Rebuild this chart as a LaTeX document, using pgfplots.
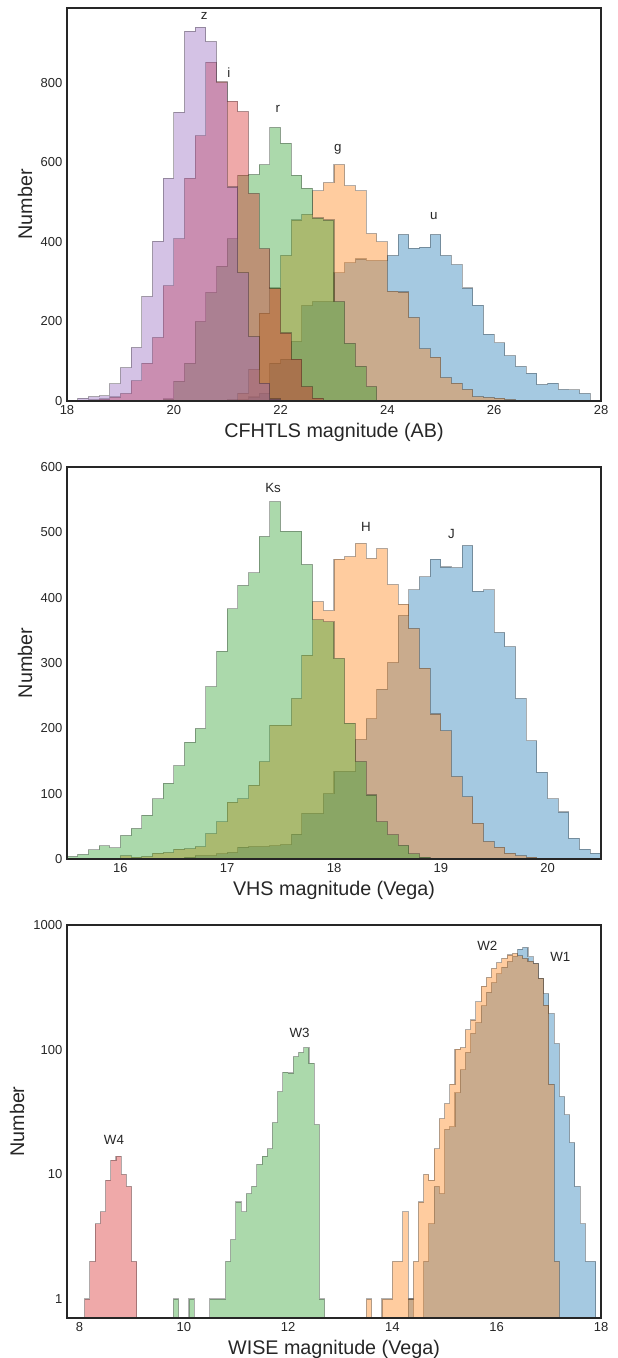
\documentclass[border=0pt]{standalone}
\usepackage{fontspec}
\setmainfont{Liberation Sans}
\usepackage{pgfplots}
\pgfplotsset{compat=1.18}
\definecolor{cC0}{HTML}{1F77B4}
\definecolor{cC1}{HTML}{FF7F0E}
\definecolor{cC2}{HTML}{2CA02C}
\definecolor{cC3}{HTML}{D62728}
\definecolor{cC4}{HTML}{9467BD}
\definecolor{txt}{HTML}{262626}
\tikzset{lab/.style={font=\fontsize{10}{12}\selectfont, text=txt}}
\pgfplotsset{
  hist/.style={const plot, mark=none, fill=#1, fill opacity=0.4, draw=black, draw opacity=0.3, line width=0.8pt},
  panel/.style={
    scale only axis, width=400.5pt, anchor=south west,
    axis line style={draw=txt, line width=1pt},
    major tick length=0pt, minor tick length=0pt,
    tick label style={font=\fontsize{9.75}{11}\selectfont, text=txt},
    /pgf/number format/assume math mode=true,
    /pgf/number format/1000 sep={},
    axis on top,
    ylabel={Number},
    every axis y label/.style={at={(axis description cs:-0.0787,0.5)}, rotate=90, anchor=center, font=\fontsize{14.8}{17}\selectfont, text=txt},
    every axis x label/.style={at={(axis description cs:0.5,0)}, anchor=center, yshift=-23.25pt, font=\fontsize{14.8}{17}\selectfont, text=txt},
  },
}
\begin{document}
\begin{tikzpicture}
\useasboundingbox (0,0) rectangle (462.75pt,-1018.5pt);
% ---------------- Panel 1 ----------------
\begin{axis}[panel, at={(50.25pt,-300.75pt)}, height=294.75pt,
  xmin=18, xmax=28, ymin=0, ymax=988,
  xtick={18,20,...,28}, ytick={0,200,...,800},
  xlabel={CFHTLS magnitude (AB)}]
\addplot[hist=cC0] coordinates {(21.2,3) (21.4,10) (21.6,20) (21.8,95) (22.0,105) (22.2,150) (22.4,240) (22.6,250) (22.8,250) (23.0,322) (23.2,347) (23.4,357) (23.6,353) (23.8,353) (24.0,366) (24.2,419) (24.4,384) (24.6,387) (24.8,419) (25.0,366) (25.2,343) (25.4,284) (25.6,241) (25.8,168) (26.0,146) (26.2,114) (26.4,87) (26.6,70) (26.8,42) (27.0,45) (27.2,29) (27.4,28) (27.6,19) (27.8,19)} \closedcycle;
\addplot[hist=cC1] coordinates {(21.0,3) (21.2,20) (21.4,80) (21.6,221) (21.8,284) (22.0,366) (22.2,455) (22.4,469) (22.6,528) (22.8,549) (23.0,594) (23.2,541) (23.4,528) (23.6,421) (23.8,400) (24.0,276) (24.2,274) (24.4,210) (24.6,131) (24.8,110) (25.0,59) (25.2,45) (25.4,29) (25.6,11) (25.8,9) (26.0,7) (26.2,4) (26.4,4)} \closedcycle;
\addplot[hist=cC2] coordinates {(19.6,2) (19.8,5) (20.0,50) (20.2,95) (20.4,200) (20.6,273) (20.8,339) (21.0,408) (21.2,568) (21.4,570) (21.6,594) (21.8,688) (22.0,648) (22.2,568) (22.4,535) (22.6,460) (22.8,455) (23.0,250) (23.2,145) (23.4,87) (23.6,36) (23.8,36)} \closedcycle;
\addplot[hist=cC3] coordinates {(18.4,3) (18.6,5) (18.8,10) (19.0,19) (19.2,51) (19.4,95) (19.6,160) (19.8,290) (20.0,408) (20.2,560) (20.4,667) (20.6,852) (20.8,803) (21.0,754) (21.2,728) (21.4,522) (21.6,383) (21.8,282) (22.0,171) (22.2,105) (22.4,36) (22.6,7) (22.8,7)} \closedcycle;
\addplot[hist=cC4] coordinates {(18.2,7) (18.4,11) (18.6,13) (18.8,43) (19.0,84) (19.2,135) (19.4,263) (19.6,402) (19.8,560) (20.0,726) (20.2,930) (20.4,940) (20.6,904) (20.8,800) (21.0,538) (21.2,322) (21.4,162) (21.6,45) (21.8,5) (22.0,5)} \closedcycle;
\node[lab] at (axis cs:20.57,967) {z};
\node[lab] at (axis cs:21.03,825) {i};
\node[lab] at (axis cs:21.95,734) {r};
\node[lab] at (axis cs:23.07,633) {g};
\node[lab] at (axis cs:24.87,464) {u};
\end{axis}
% ---------------- Panel 2 ----------------
\begin{axis}[panel, at={(50.25pt,-644.25pt)}, height=294pt,
  xmin=15.5, xmax=20.5, ymin=0, ymax=600,
  xtick={16,17,...,20}, ytick={0,100,...,600},
  xlabel={VHS magnitude (Vega)}]
\addplot[hist=cC0] coordinates {(16.6,3) (16.7,5) (16.8,5) (16.9,8) (17.0,10) (17.1,18) (17.2,19) (17.3,19) (17.4,20) (17.5,22) (17.6,38) (17.7,70) (17.8,70) (17.9,100) (18.0,134) (18.1,134) (18.2,183) (18.3,215) (18.4,260) (18.5,301) (18.6,373) (18.7,412) (18.8,432) (18.9,459) (19.0,447) (19.1,446) (19.2,480) (19.3,410) (19.4,412) (19.5,347) (19.6,325) (19.7,246) (19.8,181) (19.9,133) (20.0,92) (20.1,72) (20.2,32) (20.3,15) (20.4,9) (20.5,9)} \closedcycle;
\addplot[hist=cC1] coordinates {(16.0,5) (16.1,3) (16.2,4) (16.3,9) (16.4,10) (16.5,15) (16.6,16) (16.7,19) (16.8,39) (16.9,57) (17.0,87) (17.1,92) (17.2,113) (17.3,149) (17.4,205) (17.5,205) (17.6,246) (17.7,312) (17.8,394) (17.9,380) (18.0,459) (18.1,463) (18.2,483) (18.3,460) (18.4,475) (18.5,420) (18.6,390) (18.7,353) (18.8,292) (18.9,222) (19.0,196) (19.1,126) (19.2,95) (19.3,55) (19.4,27) (19.5,18) (19.6,9) (19.7,5) (19.8,3) (19.9,3)} \closedcycle;
\addplot[hist=cC2] coordinates {(15.5,4) (15.6,7) (15.7,14) (15.8,20) (15.9,17) (16.0,36) (16.1,47) (16.2,67) (16.3,92) (16.4,116) (16.5,143) (16.6,179) (16.7,200) (16.8,264) (16.9,318) (17.0,383) (17.1,419) (17.2,438) (17.3,494) (17.4,547) (17.5,502) (17.6,502) (17.7,451) (17.8,366) (17.9,363) (18.0,307) (18.1,208) (18.2,149) (18.3,98) (18.4,57) (18.5,37) (18.6,21) (18.7,8) (18.8,3) (18.9,3)} \closedcycle;
\node[lab] at (axis cs:17.43,568) {Ks};
\node[lab] at (axis cs:18.30,508) {H};
\node[lab] at (axis cs:19.10,497) {J};
\end{axis}
% ---------------- Panel 3 ----------------
\begin{axis}[panel, at={(50.25pt,-988.5pt)}, height=294.75pt,
  ymode=log, log origin y=infty, log ticks with fixed point,
  xmin=7.76, xmax=18.0, ymin=0.704, ymax=1000,
  xtick={8,10,...,18}, ytick={1,10,100,1000},
  every axis y label/.append style={at={(axis description cs:-0.0936,0.5)}},
  xlabel={WISE magnitude (Vega)}]
% W1
\addplot[hist=cC0] coordinates {(14.3,1) (14.4,1)} \closedcycle;
\addplot[hist=cC0] coordinates {(14.6,2) (14.7,4) (14.8,8) (14.9,7) (15.0,23) (15.1,24) (15.2,45) (15.3,69) (15.4,95) (15.5,135) (15.6,165) (15.7,225) (15.8,290) (15.9,345) (16.0,405) (16.1,460) (16.2,510) (16.3,560) (16.4,640) (16.5,661) (16.6,556) (16.7,491) (16.8,373) (16.9,282) (17.0,195) (17.1,112) (17.2,42) (17.3,30) (17.4,18) (17.5,8) (17.6,4) (17.7,2) (17.8,2) (17.9,2)} \closedcycle;
% W2
\addplot[hist=cC1] coordinates {(13.5,1) (13.6,1)} \closedcycle;
\addplot[hist=cC1] coordinates {(13.8,1) (13.9,1) (14.0,2) (14.1,2) (14.2,5) (14.3,1) (14.4,2) (14.5,6) (14.6,10) (14.7,9) (14.8,16) (14.9,28) (15.0,37) (15.1,53) (15.2,101) (15.3,104) (15.4,144) (15.5,173) (15.6,242) (15.7,324) (15.8,380) (15.9,450) (16.0,500) (16.1,540) (16.2,575) (16.3,592) (16.4,565) (16.5,540) (16.6,513) (16.7,491) (16.8,373) (16.9,228) (17.0,53) (17.1,2) (17.2,2)} \closedcycle;
% W3
\addplot[hist=cC2] coordinates {(9.8,1) (9.9,1)} \closedcycle;
\addplot[hist=cC2] coordinates {(10.1,1) (10.2,1)} \closedcycle;
\addplot[hist=cC2] coordinates {(10.5,1) (10.6,1) (10.7,1) (10.8,2) (10.9,3) (11.0,6) (11.1,5) (11.2,7) (11.3,8) (11.4,12) (11.5,14) (11.6,16) (11.7,26) (11.8,46) (11.9,66) (12.0,65) (12.1,88) (12.2,95) (12.3,104) (12.4,78) (12.5,25) (12.6,1) (12.7,1)} \closedcycle;
% W4
\addplot[hist=cC3] coordinates {(8.1,1) (8.2,2) (8.3,4) (8.4,5) (8.5,9) (8.6,13) (8.7,14) (8.8,10) (8.9,8) (9.0,2) (9.1,2)} \closedcycle;
\node[lab] at (axis cs:8.66,18.8) {W4};
\node[lab] at (axis cs:12.22,136) {W3};
\node[lab] at (axis cs:15.82,677) {W2};
\node[lab] at (axis cs:17.22,553) {W1};
\end{axis}
\end{tikzpicture}
\end{document}
